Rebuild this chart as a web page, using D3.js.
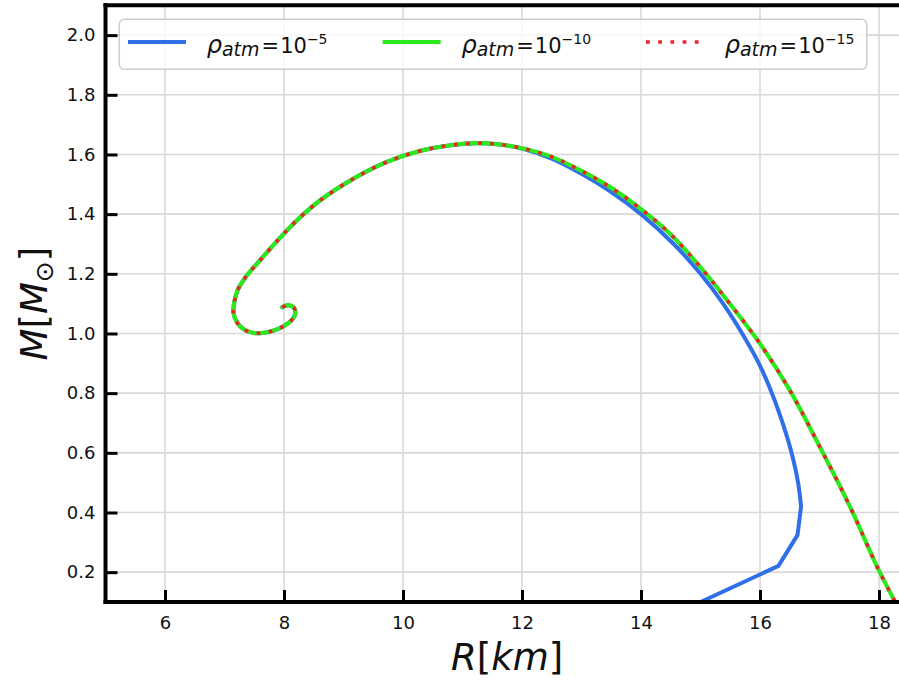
<!DOCTYPE html>
<html>
<head>
<meta charset="utf-8">
<script src="https://cdn.jsdelivr.net/npm/d3@7"></script>
<style>
  html, body { margin: 0; padding: 0; background: #fff; }
  svg { display: block; font-family: "DejaVu Sans", sans-serif; }
</style>
</head>
<body>
<svg id="chart" width="899" height="684"></svg>
<script>
// ---- data ----
const xTicks = [6, 8, 10, 12, 14, 16, 18];
const yTicks = [0.2, 0.4, 0.6, 0.8, 1.0, 1.2, 1.4, 1.6, 1.8, 2.0];
const seriesNames = ["-5", "-10", "-15"];

// rho_atm = 1e-5 (blue)
const r5R = [7.97, 8.07, 8.16, 8.19, 8.13, 8.00, 7.83, 7.65, 7.48, 7.33, 7.21, 7.15, 7.165, 7.22, 7.36, 7.60, 7.93, 8.21, 8.60, 9.16, 9.73, 10.29, 10.80, 11.25, 11.60, 12.00,
             12.50, 13.00, 13.50, 14.00, 14.55, 15.00, 15.38, 15.70, 15.98, 16.20, 16.38, 16.53, 16.64, 16.69, 16.63, 16.31, 15.00];
const r5M = [1.088, 1.095, 1.088, 1.068, 1.045, 1.025, 1.010, 1.002, 1.002, 1.013, 1.037, 1.070, 1.105, 1.145, 1.190, 1.246, 1.320, 1.378, 1.445, 1.518, 1.575, 1.612, 1.631, 1.638, 1.634, 1.620,
             1.586, 1.535, 1.474, 1.400, 1.300, 1.200, 1.100, 1.000, 0.900, 0.800, 0.700, 0.600, 0.500, 0.420, 0.324, 0.221, 0.100];

// rho_atm = 1e-10 (green)
const r10R = [7.97, 8.07, 8.16, 8.19, 8.13, 8.00, 7.83, 7.65, 7.48, 7.33, 7.21, 7.15, 7.165, 7.22, 7.36, 7.60, 7.93, 8.21, 8.60, 9.16, 9.73, 10.29, 10.80, 11.25, 11.60, 12.00,
              12.50, 13.00, 13.50, 14.00, 14.50, 15.00, 15.50, 16.00, 16.50, 17.00, 17.50, 18.00, 18.30];
const r10M = [1.088, 1.095, 1.088, 1.068, 1.045, 1.025, 1.010, 1.002, 1.002, 1.013, 1.037, 1.070, 1.105, 1.145, 1.190, 1.246, 1.320, 1.378, 1.445, 1.518, 1.575, 1.612, 1.631, 1.638, 1.634, 1.621,
              1.592, 1.545, 1.488, 1.417, 1.332, 1.222, 1.098, 0.966, 0.810, 0.622, 0.425, 0.205, 0.090];

// rho_atm = 1e-15 (red dotted)
const r15R = [7.97, 8.07, 8.16, 8.19, 8.13, 8.00, 7.83, 7.65, 7.48, 7.33, 7.21, 7.15, 7.165, 7.22, 7.36, 7.60, 7.93, 8.21, 8.60, 9.16, 9.73, 10.29, 10.80, 11.25, 11.60, 12.00,
              12.50, 13.00, 13.50, 14.00, 14.50, 15.00, 15.50, 16.00, 16.50, 17.00, 17.50, 18.00, 18.30];
const r15M = [1.088, 1.095, 1.088, 1.068, 1.045, 1.025, 1.010, 1.002, 1.002, 1.013, 1.037, 1.070, 1.105, 1.145, 1.190, 1.246, 1.320, 1.378, 1.445, 1.518, 1.575, 1.612, 1.631, 1.638, 1.634, 1.621,
              1.592, 1.545, 1.488, 1.417, 1.332, 1.222, 1.098, 0.966, 0.810, 0.622, 0.425, 0.205, 0.090];

// ---- layout ----
const svg = d3.select("#chart");
const pL = 105.5, pR = 908.75, pT = 5.3, pB = 602;
const x = d3.scaleLinear().domain([5, 18.5]).range([pL, pR]);
const y = d3.scaleLinear().domain([0.1, 2.1]).range([pB, pT]);

svg.append("defs").append("clipPath").attr("id", "plotclip")
  .append("rect").attr("x", pL).attr("y", pT).attr("width", pR - pL).attr("height", pB - pT);

// grid
const grid = svg.append("g");
grid.selectAll(".gx").data(xTicks).join("line")
  .attr("x1", d => x(d)).attr("x2", d => x(d)).attr("y1", pT).attr("y2", pB)
  .attr("stroke", "#d9d9d9").attr("stroke-width", 1.6);
grid.selectAll(".gy").data(yTicks).join("line")
  .attr("y1", d => y(d)).attr("y2", d => y(d)).attr("x1", pL).attr("x2", pR)
  .attr("stroke", "#d9d9d9").attr("stroke-width", 1.6);

// curves
const smooth = d3.line().x(d => x(d[0])).y(d => y(d[1])).curve(d3.curveCatmullRom.alpha(0.5));
const straight = d3.line().x(d => x(d[0])).y(d => y(d[1])).curve(d3.curveLinear);
const series = [
  { name: seriesNames[0], R: r5R, M: r5M, color: "#2f6fe8", width: 4, dash: null, linearFrom: r5M.indexOf(0.420) },
  { name: seriesNames[1], R: r10R, M: r10M, color: "#2ee81e", width: 4.2, dash: null, linearFrom: -1 },
  { name: seriesNames[2], R: r15R, M: r15M, color: "#e8262a", width: 3.6, dash: "3.8,8.4", linearFrom: -1 }
];
const plot = svg.append("g").attr("clip-path", "url(#plotclip)");
series.forEach(s => {
  const pts = s.R.map((r, i) => [r, s.M[i]]);
  const parts = s.linearFrom > 0
    ? [[pts.slice(0, s.linearFrom + 1), smooth], [pts.slice(s.linearFrom), straight]]
    : [[pts, smooth]];
  parts.forEach(([p, gen]) => {
    plot.append("path")
      .datum(p)
      .attr("d", gen)
      .attr("fill", "none")
      .attr("stroke", s.color)
      .attr("stroke-width", s.width)
      .attr("stroke-linejoin", "round")
      .attr("stroke-linecap", s.dash ? "butt" : "round")
      .attr("stroke-dasharray", s.dash);
  });
});

// axes (ticks inward)
const xAxis = d3.axisBottom(x).tickValues(xTicks).tickFormat(d3.format("d")).tickSizeInner(-12).tickSizeOuter(0).tickPadding(14);
const yAxis = d3.axisLeft(y).tickValues(yTicks).tickFormat(d3.format(".1f")).tickSizeInner(-12).tickSizeOuter(0).tickPadding(10);
const gx = svg.append("g").attr("transform", `translate(0,${pB})`).call(xAxis);
const gy = svg.append("g").attr("transform", `translate(${pL},0)`).call(yAxis);
[gx, gy].forEach(g => {
  g.select(".domain").remove();
  g.selectAll(".tick line").attr("stroke", "#000").attr("stroke-width", 3);
  g.selectAll(".tick text").attr("font-family", "DejaVu Sans").attr("font-size", 18).attr("fill", "#111");
});

// spines
const spines = svg.append("g").attr("stroke", "#000").attr("stroke-width", 4).attr("stroke-linecap", "square");
spines.append("line").attr("x1", pL).attr("x2", pL).attr("y1", pT).attr("y2", pB);
spines.append("line").attr("x1", pL).attr("x2", pR).attr("y1", pB).attr("y2", pB);
spines.append("line").attr("x1", pL).attr("x2", pR).attr("y1", pT).attr("y2", pT);
spines.append("line").attr("x1", pR).attr("x2", pR).attr("y1", pT).attr("y2", pB);

// axis labels
const xl = svg.append("text").attr("x", (pL + pR) / 2).attr("y", 670)
  .attr("text-anchor", "middle").attr("font-size", 37).attr("fill", "#111");
xl.append("tspan").attr("font-style", "italic").text("R");
xl.append("tspan").text("[");
xl.append("tspan").attr("font-style", "italic").text("km");
xl.append("tspan").text("]");

const yl = svg.append("text").attr("transform", `translate(47,${(pT + pB) / 2}) rotate(-90)`)
  .attr("text-anchor", "middle").attr("font-size", 37).attr("fill", "#111");
yl.append("tspan").attr("font-style", "italic").text("M");
yl.append("tspan").text("[");
yl.append("tspan").attr("font-style", "italic").text("M");
yl.append("tspan").attr("font-size", 25).attr("dy", 6).text("⊙");
yl.append("tspan").attr("dy", -6).text("]");

// legend
const leg = svg.append("g");
leg.append("rect").attr("x", 119.3).attr("y", 19.3).attr("width", 747.4).attr("height", 50).attr("rx", 5)
  .attr("fill", "#fff").attr("fill-opacity", 0.8).attr("stroke", "#cccccc").attr("stroke-width", 1.5);
const legX = [128, 382.7, 646];
series.forEach((s, i) => {
  leg.append("line").attr("x1", legX[i]).attr("x2", legX[i] + 58).attr("y1", 42).attr("y2", 42)
    .attr("stroke", s.color).attr("stroke-width", s.width).attr("stroke-dasharray", s.dash)
    .attr("stroke-linecap", "butt");
  const t = leg.append("text").attr("x", legX[i] + 78.7).attr("y", 53).attr("fill", "#111");
  t.append("tspan").attr("font-style", "italic").attr("font-size", 24).text("ρ");
  t.append("tspan").attr("font-style", "italic").attr("font-size", 19).attr("dy", 3).text("atm");
  t.append("tspan").attr("font-size", 21).attr("dy", -3).attr("dx", 2).text("=");
  t.append("tspan").attr("font-size", 21).attr("dx", 1).text("10");
  t.append("tspan").attr("font-size", 14).attr("dy", -9).text("−" + s.name.slice(1));
});
</script>
</body>
</html>
